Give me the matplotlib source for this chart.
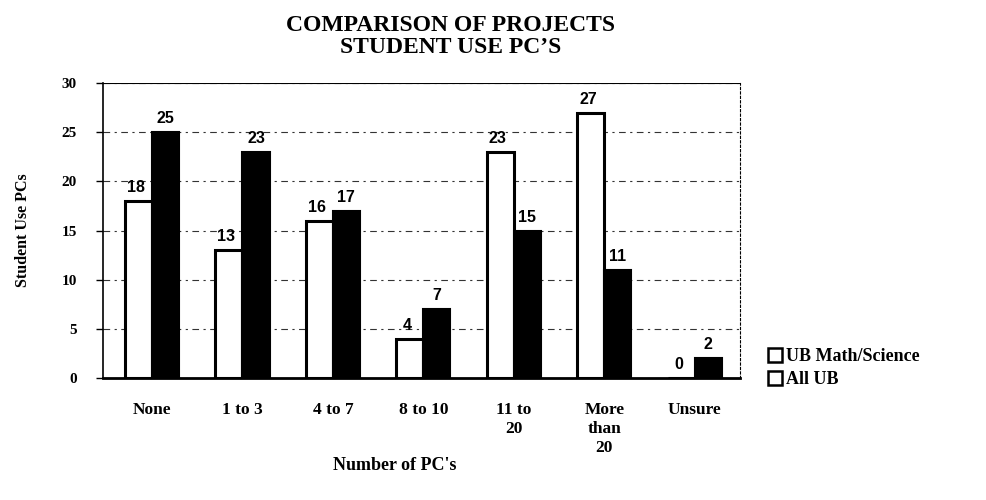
import matplotlib
matplotlib.use("Agg")
import matplotlib.pyplot as plt
import numpy as np
from matplotlib.patches import Patch

categories = ["None", "1 to 3", "4 to 7", "8 to 10", "11 to\n20", "More\nthan\n20", "Unsure"]
math_science = [18, 13, 16, 4, 23, 27, 0]
all_ub = [25, 23, 17, 7, 15, 11, 2]
series_names = ["UB Math/Science", "All UB"]
yticks = [0, 5, 10, 15, 20, 25, 30]

serif = "Liberation Serif"
sans = "Liberation Sans"

fig = plt.figure(figsize=(9.86, 5.0), dpi=100)
ax = fig.add_axes([0.1045, 0.244, 0.646, 0.590])

x = np.arange(len(categories))
w = 0.3
ax.bar(x - w / 2, math_science, w, color="white", edgecolor="black", linewidth=2.2, zorder=3)
ax.bar(x + w / 2, all_ub, w, color="black", edgecolor="black", linewidth=1.5, zorder=3)

for xi, v in zip(x - w / 2, math_science):
    ax.text(xi - 0.03, v + 0.6, str(v), ha="center", va="bottom", fontsize=11.5,
            fontweight="bold", family=sans, zorder=4)
for xi, v in zip(x + w / 2, all_ub):
    ax.text(xi, v + 0.6, str(v), ha="center", va="bottom", fontsize=11.5,
            fontweight="bold", family=sans, zorder=4)

ax.set_xlim(-0.54, len(categories) - 0.5)
ax.set_ylim(0, 30)
ax.set_yticks(yticks)
ax.set_yticklabels([str(t) for t in yticks], family=serif, fontweight="bold", fontsize=11)
ax.set_xticks(x)
ax.set_xticklabels(categories, family=serif, fontweight="bold", fontsize=12.5, va="top")
ax.tick_params(axis="x", length=0, pad=17)
ax.tick_params(axis="y", length=5, width=1, pad=14)
for t in ax.get_xticklabels():
    t.set_linespacing(1.25)

ax.grid(axis="y", color="#333333", linestyle=(0, (6, 4, 2, 4)), linewidth=0.8, zorder=0)
ax.spines["top"].set_visible(False)
ax.spines["right"].set_visible(True)
ax.spines["right"].set_linestyle((0, (2, 2)))
ax.spines["right"].set_linewidth(0.8)
ax.spines["left"].set_linewidth(1.2)
ax.spines["bottom"].set_linewidth(2)
ax.axhline(30, color="black", linewidth=1.5, zorder=2)

ax.set_ylabel("Student Use PCs", family=serif, fontweight="bold", fontsize=11.5, labelpad=22)
fig.text(0.40, 0.068, "Number of PC's", ha="center", va="center",
         family=serif, fontweight="bold", fontsize=13)

fig.text(0.457, 0.97, "COMPARISON OF PROJECTS\nSTUDENT USE PC\u2019S", ha="center", va="top",
         family=serif, fontweight="bold", fontsize=17, linespacing=1.05)

handles = [Patch(facecolor="white", edgecolor="black", linewidth=1.8),
           Patch(facecolor="white", edgecolor="black", linewidth=1.8)]
fig.legend(handles, series_names, loc="upper left", bbox_to_anchor=(0.762, 0.337),
           frameon=False, handlelength=0.8, handleheight=0.8, handletextpad=0.2,
           labelspacing=0.35, prop={"family": serif, "weight": "bold", "size": 13})

fig.savefig("out.png", dpi=100)
